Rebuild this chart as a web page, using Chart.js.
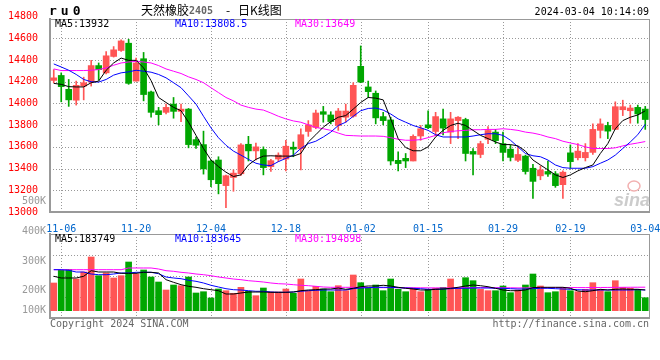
<!DOCTYPE html>
<html><head><meta charset="utf-8">
<script src="https://cdn.jsdelivr.net/npm/chart.js@4.4.1/dist/chart.umd.min.js"></script>
<style>
html,body{margin:0;padding:0;background:#fff;}
#wrap{position:relative;width:660px;height:360px;overflow:hidden;}
canvas{position:absolute;left:0;top:0;}
</style></head>
<body><div id="wrap"><canvas id="price" width="660" height="360"></canvas><canvas id="vol" width="660" height="360"></canvas></div>
<script>
const dates = ['11-03','11-06','11-07','11-08','11-09','11-10','11-13','11-14','11-15','11-16','11-17','11-20','11-21','11-22','11-23','11-24','11-27','11-28','11-29','11-30',
'12-01','12-04','12-05','12-06','12-07','12-08','12-11','12-12','12-13','12-14','12-15','12-18','12-19','12-20','12-21','12-22','12-25','12-26','12-27','12-28','12-29',
'01-02','01-03','01-04','01-05','01-08','01-09','01-10','01-11','01-12','01-15','01-16','01-17','01-18','01-19','01-22','01-23','01-24','01-25','01-26','01-29','01-30','01-31',
'02-01','02-02','02-05','02-06','02-07','02-08','02-19','02-20','02-21','02-22','02-23','02-26','02-27','02-28','02-29','03-01','03-04'];
const tickDates = ['11-06','11-20','12-04','12-18','01-02','01-15','01-29','02-19','03-04'];
const priceTicks = [13000,13200,13400,13600,13800,14000,14200,14400,14600,14800];

const open = [14212,14258,14130,14030,14160,14197,14349,14282,14433,14488,14555,14206,14412,14106,13933,13918,13994,13927,13948,13667,
13621,13470,13479,13243,13318,13352,13624,13563,13576,13418,13488,13488,13597,13582,13742,13779,13924,13894,13797,13873,
13882,14342,14152,14094,13879,13848,13476,13494,13470,13700,13803,13742,13858,13736,13842,13852,13558,13530,13670,13736,
13630,13579,13476,13515,13403,13333,13373,13352,13252,13545,13500,13500,13549,13752,13797,13761,13942,13933,13964,13948];
const high = [14312,14282,14221,14206,14242,14397,14373,14479,14524,14585,14591,14418,14470,14115,13964,13994,14055,13994,13954,13691,
13745,13479,13509,13340,13388,13630,13697,13636,13600,13485,13545,13661,13645,13767,13842,13939,13973,13924,13954,13994,
14191,14530,14206,14115,13918,13873,13555,13539,13712,13797,13933,13918,13948,13918,13880,13864,13585,13652,13788,13761,
13736,13618,13600,13524,13439,13424,13470,13373,13379,13618,13630,13630,13812,13858,13827,14015,14030,13985,13985,13973];
const low = [14190,14015,13973,13985,14033,14160,14215,14273,14427,14479,14176,14206,14024,13873,13803,13903,13864,13833,13591,13585,
13349,13233,13167,13040,13191,13337,13470,13479,13342,13373,13464,13379,13509,13388,13697,13767,13827,13812,13752,13827,
13873,14191,14055,13812,13803,13433,13379,13409,13470,13661,13767,13700,13709,13630,13676,13470,13342,13500,13630,13630,
13470,13470,13464,13349,13124,13297,13327,13227,13124,13403,13479,13470,13530,13682,13676,13761,13888,13818,13818,13761];
const close = [14236,14155,14033,14167,14191,14349,14312,14439,14494,14576,14185,14373,14082,13918,13897,13964,13927,13948,13621,13615,
13397,13297,13261,13334,13358,13618,13563,13600,13409,13473,13524,13606,13579,13712,13803,13912,13900,13833,13930,13930,
14167,14197,14109,13867,13842,13470,13446,13470,13697,13767,13776,13879,13773,13858,13873,13539,13533,13630,13751,13658,
13549,13503,13530,13373,13282,13388,13349,13243,13367,13464,13561,13549,13761,13812,13745,13970,13970,13958,13903,13852];

const ma5 = [14185,14176,14155,14152,14152,14191,14206,14306,14373,14418,14397,14397,14327,14210,14055,14009,13964,13933,13827,13706,
13585,13479,13418,13367,13327,13342,13433,13485,13515,13518,13515,13515,13515,13539,13645,13712,13782,13833,13873,13888,
13948,14009,14055,14049,14033,13858,13676,13594,13564,13564,13600,13691,13752,13797,13818,13797,13752,13706,13676,13645,
13621,13621,13609,13561,13479,13433,13388,13342,13318,13342,13379,13409,13433,13539,13630,13767,13842,13873,13894,13932];
const ma10 = [14364,14336,14306,14267,14221,14200,14197,14221,14261,14282,14291,14306,14297,14288,14267,14236,14191,14145,14070,13994,
13882,13775,13684,13615,13561,13524,13485,13449,13433,13427,13464,13494,13524,13585,13630,13652,13691,13736,13797,13827,
13882,13933,13954,13958,13939,13903,13858,13827,13797,13776,13752,13712,13691,13691,13691,13691,13700,13712,13721,13721,
13706,13661,13600,13539,13518,13509,13479,13433,13409,13403,13403,13403,13418,13449,13479,13524,13585,13645,13712,13808.5];
const ma30 = [14318,14303,14303,14303,14303,14306,14312,14327,14352,14373,14382,14388,14382,14373,14349,14318,14297,14276,14245,14221,
14191,14145,14100,14055,14024,13985,13964,13948,13939,13912,13882,13858,13839,13827,13803,13779,13767,13752,13727,13706,
13703,13700,13700,13700,13697,13685,13670,13661,13661,13667,13685,13706,13730,13742,13748,13752,13758,13758,13761,13761,
13767,13761,13752,13736,13727,13712,13691,13676,13652,13636,13621,13600,13585,13585,13585,13591,13609,13624,13636,13649];

const volume = [211900,263200,267200,228000,256300,316900,241400,252300,232100,241400,296700,248200,264400,236100,215900,183600,203800,201000,236100,171500,
176700,151300,187600,180800,170300,194500,178400,160600,191700,175500,175500,187600,170300,228000,180800,198500,187600,176700,201000,180800,
244200,213100,194500,203800,180800,228000,186400,176700,190500,176700,186400,190500,194500,228000,190500,233300,221200,186400,180800,180800,
199800,172700,183600,203800,248200,199800,172700,176700,190500,180800,176700,186400,213100,186400,176700,221200,194500,190500,186400,152500];
const volMa5 = [238900,232100,232100,232100,238900,261600,256300,256300,256300,251000,251000,251000,255100,255100,252300,225200,214700,205000,198500,194500,
188900,184800,180800,167400,167400,171500,175500,175500,175500,174300,174300,174300,175500,180800,183600,184800,187600,187600,191700,186400,
190500,196900,199800,199800,202600,199800,194500,190500,187600,183600,183600,186400,187600,190500,194500,199800,203800,201000,196900,190500,
183600,180800,180800,183600,193300,194500,194500,194500,194500,190500,179600,176700,180800,186400,183600,186400,187600,186400,186400,183749];
const volMa10 = [265600,265600,263200,256300,256300,248200,245400,245400,248200,252300,252300,255100,255100,255100,249400,236100,232100,229200,222800,218700,
211900,202600,195700,188900,184800,183600,180800,178400,178400,175500,174300,174300,175500,178400,180800,182400,183600,183600,183600,183600,
188900,191700,192900,194500,194500,194500,192900,191700,190500,188900,186400,186400,187600,188900,190500,190500,191700,191700,191700,190500,
190500,188900,187600,187600,188900,190500,190500,188900,187600,186400,184800,183600,183600,183600,183600,183600,183600,183600,184800,183645];
const volMa30 = [265600,265600,265600,265600,265600,265600,265600,265600,265600,265600,272500,272500,272500,272500,268400,261600,259100,255100,252300,248200,
245400,241400,236100,232100,228000,225200,221200,218700,215900,211900,209000,207800,205000,202600,201000,198500,195700,194500,194500,194500,
194500,194000,193500,193300,193000,193000,192900,192900,192500,192500,192200,192200,192000,192000,192500,193000,193000,193300,193300,193000,
192500,192500,192000,192000,192500,193000,193000,193300,193500,193500,193300,193300,193500,193800,194000,194200,194500,194700,194800,194898];

const RED = '#ff5555', GREEN = '#00a600', GRID = '#999999', AXIS = '#999999';
const MONO = "'DejaVu Sans Mono', monospace";
const upColors = close.map((c, i) => c >= open[i] ? RED : GREEN);

function fixY(w) { return function (s) { s.width = w; s.paddingTop = 0; s.paddingBottom = 0; }; }
function fixX(h) { return function (s) { s.height = h; s.paddingLeft = 0; s.paddingRight = 0; }; }

// dotted grid lines at the chart's own tick positions (1px dot, 2px gap)
const dottedGrid = {
  id: 'dottedGrid',
  beforeDatasetsDraw(chart, args, opts) {
    const { ctx, chartArea: a, scales } = chart;
    ctx.save();
    ctx.fillStyle = GRID;
    const top = Math.ceil(a.top), bottom = Math.floor(a.bottom), left = Math.ceil(a.left), right = Math.floor(a.right);
    tickDates.forEach(d => {
      const idx = dates.indexOf(d);
      if (idx < 0 || idx === dates.length - 1) return;
      const x = Math.round(scales.x.getPixelForValue(idx));
      for (let y = top; y < bottom; y += 3) ctx.fillRect(x, y, 1, 1);
    });
    const ys = opts.yValues || [];
    for (let k = 0; k < ys.length; k++) {
      const y = Math.round(scales.y.getPixelForValue(ys[k]));
      for (let x = left; x < right; x += 3) ctx.fillRect(x, y, 1, 1);
    }
    ctx.restore();
  }
};

const priceDecor = {
  id: 'priceDecor',
  afterDraw(chart) {
    const { ctx, chartArea: a } = chart;
    ctx.save();
    ctx.strokeStyle = AXIS; ctx.lineWidth = 1;
    ctx.beginPath();
    ctx.moveTo(a.left, a.top + 0.5); ctx.lineTo(a.right + 0.5, a.top + 0.5);
    ctx.moveTo(a.right + 0.5, a.top); ctx.lineTo(a.right + 0.5, a.bottom);
    ctx.stroke();
    ctx.textBaseline = 'middle';
    ctx.fillStyle = '#000';
    ctx.font = "bold 13px " + MONO;
    ctx.letterSpacing = '4px';
    ctx.textAlign = 'left';
    ctx.fillText('ru0', 49, 12);
    ctx.letterSpacing = '0px';
    ctx.font = "12px 'Noto Sans CJK SC', sans-serif";
    ctx.fillText('天然橡胶', 141, 10);
    ctx.fillStyle = '#666';
    ctx.font = "bold 10px " + MONO;
    ctx.fillText('2405', 189, 11);
    ctx.fillStyle = '#000';
    ctx.font = "12px 'Noto Sans CJK SC', sans-serif";
    ctx.fillText('-', 226, 10);
    ctx.fillText('日K线图', 238, 10);
    ctx.font = "10px " + MONO;
    ctx.textAlign = 'right';
    ctx.fillText('2024-03-04 10:14:09', a.right, 12);
    ctx.textAlign = 'left';
    ctx.fillStyle = '#000'; ctx.fillText('MA5:13932', 55, a.top + 5);
    ctx.fillStyle = '#0000ff'; ctx.fillText('MA10:13808.5', 175, a.top + 5);
    ctx.fillStyle = '#ff00ff'; ctx.fillText('MA30:13649', 295, a.top + 5);
    ctx.fillStyle = AXIS; ctx.textAlign = 'right';
    ctx.fillText('500K', 46, a.bottom - 11);
    ctx.textAlign = 'left';
    ctx.fillStyle = '#cccccc';
    ctx.font = "italic bold 18px 'Liberation Sans', Arial, sans-serif";
    ctx.textBaseline = 'alphabetic';
    ctx.fillText('sina', 614, a.bottom - 6);
    ctx.strokeStyle = '#f2b0b0'; ctx.lineWidth = 1.5;
    ctx.beginPath(); ctx.ellipse(634, a.bottom - 26, 6, 5, 0, 0, Math.PI * 2); ctx.stroke();
    ctx.restore();
  }
};

new Chart(document.getElementById('price'), {
  data: {
    labels: dates,
    datasets: [
      { type: 'line', data: ma5, borderColor: '#000000', borderWidth: 1, pointRadius: 0, tension: 0, order: 0 },
      { type: 'line', data: ma10, borderColor: '#0000ff', borderWidth: 1, pointRadius: 0, tension: 0, order: 0 },
      { type: 'line', data: ma30, borderColor: '#ff00ff', borderWidth: 1, pointRadius: 0, tension: 0, order: 0 },
      { type: 'bar', data: open.map((o, i) => [o, close[i]]), backgroundColor: upColors, barThickness: 6, minBarLength: 1, grouped: false, order: 1 },
      { type: 'bar', data: low.map((l, i) => [l, high[i]]), backgroundColor: upColors, barThickness: 1, grouped: false, order: 2 }
    ]
  },
  options: {
    responsive: false, animation: false, devicePixelRatio: 1,
    layout: { padding: { left: 0, right: 11, top: 19, bottom: 128 } },
    plugins: { legend: { display: false }, tooltip: { enabled: false },
      dottedGrid: { yValues: priceTicks.slice(1, 9) } },
    scales: {
      x: {
        type: 'category', offset: true,
        grid: { display: false },
        border: { display: true, color: AXIS, width: 2 },
        ticks: { autoSkip: false, maxRotation: 0, padding: 3, color: '#0066cc', font: { family: MONO, size: 10 },
          callback: (v, i) => tickDates.includes(dates[i]) ? dates[i] : null },
        afterFit: fixX(20)
      },
      y: {
        min: 13000, max: 14778,
        afterBuildTicks: s => { s.ticks = priceTicks.map(v => ({ value: v })); },
        grid: { display: false },
        border: { display: true, color: AXIS, width: 2 },
        ticks: { padding: 4, color: '#ff0000', font: { family: MONO, size: 10 }, callback: v => String(v) },
        afterFit: fixY(50)
      }
    }
  },
  plugins: [dottedGrid, priceDecor]
});

const volDecor = {
  id: 'volDecor',
  afterDraw(chart) {
    const { ctx, chartArea: a } = chart;
    ctx.save();
    ctx.strokeStyle = AXIS; ctx.lineWidth = 1;
    ctx.beginPath();
    ctx.moveTo(a.left, a.top + 0.5); ctx.lineTo(a.right + 0.5, a.top + 0.5);
    ctx.moveTo(a.right + 0.5, a.top); ctx.lineTo(a.right + 0.5, a.bottom);
    ctx.stroke();
    ctx.textBaseline = 'middle';
    ctx.font = "10px " + MONO;
    ctx.textAlign = 'left';
    ctx.fillStyle = '#000'; ctx.fillText('MA5:183749', 55, a.top + 5);
    ctx.fillStyle = '#0000ff'; ctx.fillText('MA10:183645', 175, a.top + 5);
    ctx.fillStyle = '#ff00ff'; ctx.fillText('MA30:194898', 295, a.top + 5);
    ctx.fillStyle = AXIS; ctx.textAlign = 'right';
    ctx.fillText('400K', 46, a.top - 3);
    ctx.fillText('300K', 46, a.top + 27);
    ctx.fillText('200K', 46, a.top + 56);
    ctx.fillText('100K', 46, a.top + 76);
    ctx.fillStyle = '#666';
    ctx.textAlign = 'left';
    ctx.fillText('Copyright 2024 SINA.COM', a.left, a.bottom + 6);
    ctx.textAlign = 'right';
    ctx.fillText('http://finance.sina.com.cn', a.right, a.bottom + 6);
    ctx.restore();
  }
};

const VMIN = 70500, VMAX = 409800;
const volGridValues = [VMIN + (VMAX - VMIN) / 4, VMIN + (VMAX - VMIN) / 2, VMIN + 3 * (VMAX - VMIN) / 4];
new Chart(document.getElementById('vol'), {
  data: {
    labels: dates,
    datasets: [
      { type: 'line', data: volMa5, borderColor: '#000000', borderWidth: 1, pointRadius: 0, tension: 0, order: 0 },
      { type: 'line', data: volMa10, borderColor: '#0000ff', borderWidth: 1, pointRadius: 0, tension: 0, order: 0 },
      { type: 'line', data: volMa30, borderColor: '#ff00ff', borderWidth: 1, pointRadius: 0, tension: 0, order: 0 },
      { type: 'bar', data: volume, base: 100000, backgroundColor: upColors, barThickness: 6, grouped: false, order: 1 }
    ]
  },
  options: {
    responsive: false, animation: false, devicePixelRatio: 1,
    layout: { padding: { left: 0, right: 11, top: 234, bottom: 42 } },
    plugins: { legend: { display: false }, tooltip: { enabled: false },
      dottedGrid: { yValues: volGridValues } },
    scales: {
      x: {
        type: 'category', offset: true,
        grid: { display: false },
        border: { display: true, color: AXIS, width: 2 },
        ticks: { display: false, autoSkip: false },
        afterFit: fixX(0)
      },
      y: {
        min: VMIN, max: VMAX,
        grid: { display: false },
        border: { display: true, color: AXIS, width: 2 },
        ticks: { display: false },
        afterFit: fixY(50)
      }
    }
  },
  plugins: [dottedGrid, volDecor]
});
</script>
</body></html>
